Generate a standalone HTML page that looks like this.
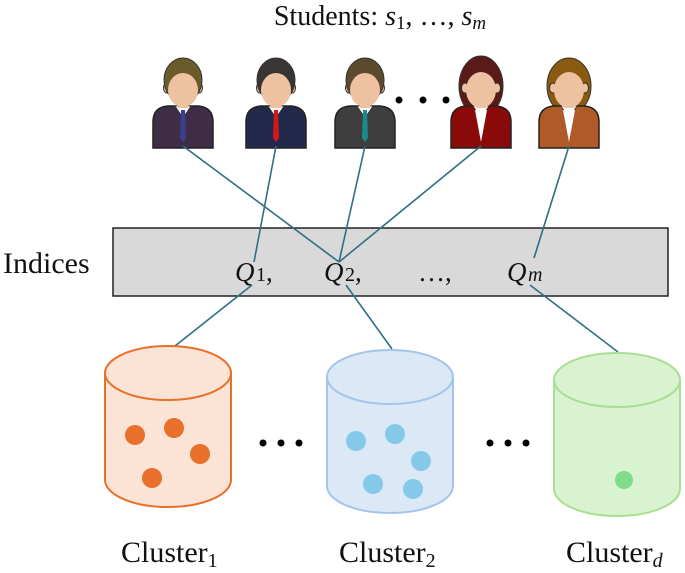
<!DOCTYPE html>
<html><head><meta charset="utf-8"><style>
html,body{margin:0;padding:0;background:#fff;}
svg{display:block;font-family:"Liberation Serif",serif;}
</style></head><body>
<svg width="685" height="573" viewBox="0 0 685 573" xmlns="http://www.w3.org/2000/svg">
<defs>
<g id="p">
  <path d="M-30,148 L-30,122 Q-30,107 -15,106 L15,106 Q30,107 30,122 L30,148 Z" stroke="#222" stroke-width="1.5"/>
  <path d="M-8,106 L0,118 L8,106 Z" fill="#fff" stroke="#333" stroke-width="0.8"/>
  <ellipse cx="-16" cy="88" rx="3.5" ry="5" fill="#eec1a0" stroke="#333" stroke-width="1"/>
  <ellipse cx="16" cy="88" rx="3.5" ry="5" fill="#eec1a0" stroke="#333" stroke-width="1"/>
  <rect x="-5" y="98" width="10" height="10" fill="#eec1a0"/>
</g>
</defs>
<text x="380" y="25" font-size="28" text-anchor="middle" fill="#111">Students: <tspan font-style="italic">s</tspan><tspan font-size="19" dy="4">1</tspan><tspan dy="-4">, …, </tspan><tspan font-style="italic">s</tspan><tspan font-size="19" font-style="italic" dy="4">m</tspan></text>

<!-- persons -->
<g transform="translate(183,0)"><use href="#p" fill="#3f2d47"/><path d="M-2,110 L2,110 L3,138 L0,142 L-3,138Z" fill="#3b3f8f"/><ellipse cx="0" cy="80" rx="19" ry="22" fill="#6b5a2a" stroke="#333"/><ellipse cx="0" cy="90" rx="15" ry="17" fill="#eec1a0"/></g>
<g transform="translate(276,0)"><use href="#p" fill="#23294a"/><path d="M-2,110 L2,110 L3,138 L0,142 L-3,138Z" fill="#d01818"/><ellipse cx="0" cy="80" rx="19" ry="22" fill="#3a3535" stroke="#333"/><ellipse cx="0" cy="90" rx="15" ry="17" fill="#eec1a0"/></g>
<g transform="translate(365,0)"><use href="#p" fill="#3e3e3e"/><path d="M-2,110 L2,110 L3,138 L0,142 L-3,138Z" fill="#1b8a8a"/><ellipse cx="0" cy="80" rx="19" ry="22" fill="#5c4a2e" stroke="#333"/><ellipse cx="0" cy="90" rx="15" ry="17" fill="#eec1a0"/></g>
<g transform="translate(481,0)"><ellipse cx="0" cy="86" rx="22" ry="30" fill="#5a1a1a" stroke="#333"/><use href="#p" fill="#8a0a0a"/><path d="M-6,110 L6,110 L0,142Z" fill="#fff"/><ellipse cx="0" cy="90" rx="15" ry="18" fill="#eec1a0"/></g>
<g transform="translate(569,0)"><ellipse cx="0" cy="86" rx="22" ry="28" fill="#8a5a10" stroke="#333"/><use href="#p" fill="#b05a28"/><path d="M-6,110 L6,110 L0,142Z" fill="#fff"/><ellipse cx="0" cy="90" rx="15" ry="18" fill="#eec1a0"/></g>
<circle cx="399" cy="100" r="3.5" fill="#000"/><circle cx="423" cy="100" r="3.5" fill="#000"/><circle cx="446" cy="100" r="3.5" fill="#000"/>

<!-- box -->
<rect x="113" y="228" width="555" height="68" fill="#d9d9d9" stroke="#222" stroke-width="1.5"/>
<text x="3" y="273" font-size="30" fill="#111">Indices</text>
<g font-size="27" fill="#111">
<text x="235" y="281" font-style="italic">Q</text><text x="256" y="281" font-size="20">1</text><text x="266" y="281">,</text>
<text x="324" y="281" font-style="italic">Q</text><text x="345" y="281" font-size="20">2</text><text x="355" y="281">,</text>
<text x="418" y="281">…,</text>
<text x="507" y="281" font-style="italic">Q</text><text x="528" y="281" font-size="20" font-style="italic">m</text>
</g>

<!-- lines -->
<g stroke="#2f6e84" stroke-width="1.6" fill="none">
<line x1="183" y1="146" x2="339" y2="262"/>
<line x1="276" y1="146" x2="254" y2="262"/>
<line x1="365" y1="146" x2="339" y2="262"/>
<line x1="481" y1="146" x2="339" y2="262"/>
<line x1="569" y1="146" x2="534" y2="258"/>
<line x1="252" y1="285" x2="175" y2="346"/>
<line x1="346" y1="285" x2="392" y2="349"/>
<line x1="530" y1="285" x2="618" y2="352"/>
</g>

<!-- cylinders -->
<path d="M105,373 L105,480 A63,27 0 0 0 231,480 L231,373" fill="#fbe3d6" stroke="#e8702a" stroke-width="2"/>
<ellipse cx="168" cy="373" rx="63" ry="27" fill="#fbe3d6" stroke="#e8702a" stroke-width="2"/>
<g fill="#e8702a"><circle cx="135" cy="435" r="10"/><circle cx="174" cy="428" r="10"/><circle cx="200" cy="454" r="10"/><circle cx="152" cy="478" r="10"/></g>

<path d="M327,377 L327,486 A63,27 0 0 0 453,486 L453,377" fill="#dbe9f6" stroke="#a4c5ea" stroke-width="2"/>
<ellipse cx="390" cy="377" rx="63" ry="27" fill="#dbe9f6" stroke="#a4c5ea" stroke-width="2"/>
<g fill="#84c9ea"><circle cx="356" cy="441" r="10"/><circle cx="395" cy="434" r="10"/><circle cx="421" cy="461" r="10"/><circle cx="373" cy="484" r="10"/><circle cx="413" cy="489" r="10"/></g>

<path d="M554,380 L554,489 A63,27 0 0 0 680,489 L680,380" fill="#d9f2d0" stroke="#a9df92" stroke-width="2"/>
<ellipse cx="617" cy="380" rx="63" ry="27" fill="#d9f2d0" stroke="#a9df92" stroke-width="2"/>
<circle cx="624" cy="480" r="9" fill="#7fdc8a"/>

<g fill="#000"><circle cx="263" cy="443" r="3.5"/><circle cx="281" cy="443" r="3.5"/><circle cx="299" cy="443" r="3.5"/>
<circle cx="490" cy="443" r="3.5"/><circle cx="508" cy="443" r="3.5"/><circle cx="526" cy="443" r="3.5"/></g>

<g font-size="30" fill="#111">
<text x="121" y="562">Cluster<tspan font-size="20" dy="5">1</tspan></text>
<text x="339" y="562">Cluster<tspan font-size="20" dy="5">2</tspan></text>
<text x="566" y="562">Cluster<tspan font-size="20" font-style="italic" dy="5">d</tspan></text>
</g>
</svg>
</body></html>
